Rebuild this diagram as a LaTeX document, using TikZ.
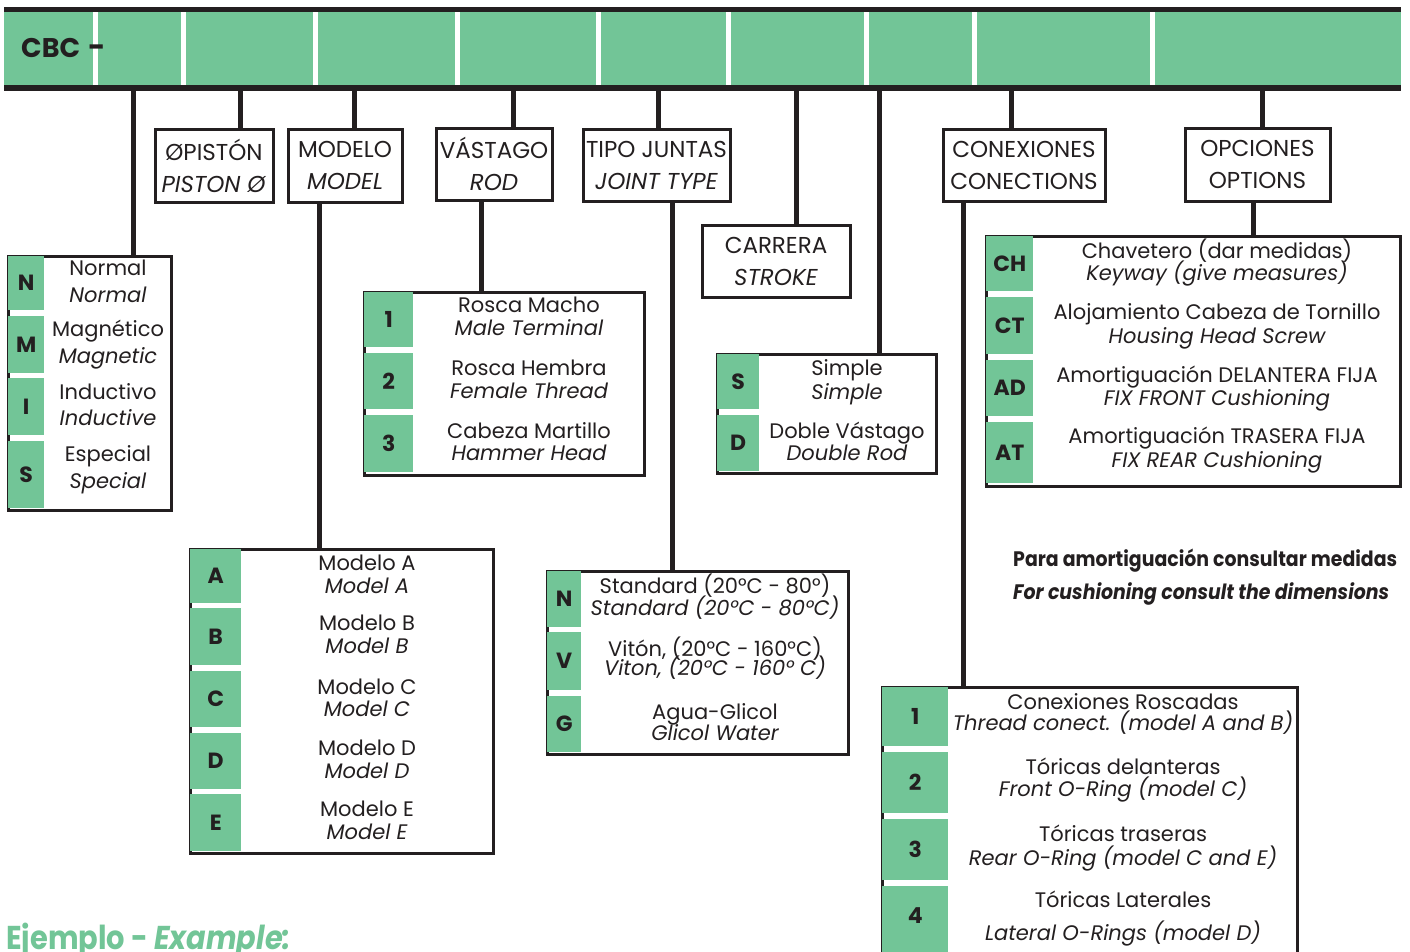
\documentclass[tikz,border=0pt]{standalone}
\usepackage{fontspec}
\setmainfont{Poppins}
\newfontfamily\condfont[FakeStretch=0.9]{Poppins}
\newfontfamily\ejfont[FakeStretch=0.875]{Poppins}
\definecolor{gr}{RGB}{114,197,151}
\definecolor{ink}{RGB}{35,31,32}
\tikzset{
  conn/.style={draw=ink, line width=5},
  hbox/.style={draw=ink, line width=3, fill=white, align=center, inner sep=0, anchor=north west,
    font=\fontsize{23}{32}\selectfont, text=ink},
  tbox/.style={draw=ink, line width=3, fill=white, inner sep=0, anchor=north west},
  gcell/.style={fill=gr, inner sep=0, anchor=north west, font=\fontsize{22}{22}\selectfont\bfseries, text=ink},
  es/.style={anchor=base, inner sep=0, font=\fontsize{21}{21}\selectfont, text=ink},
  en/.style={anchor=base, inner sep=0, font=\fontsize{21}{21}\selectfont\itshape, text=ink},
}
\begin{document}
\begin{tikzpicture}[x=1pt,y=-1pt]
\useasboundingbox[fill=white] (0,0) rectangle (1410,951);

% ---- top bar
\node[fill=gr, minimum width=1397, minimum height=73, inner sep=0, anchor=north west] (bar) at (4,12) {};
\draw[ink, line width=5] ([yshift=2.5]bar.north west) -- ([yshift=2.5]bar.north east);
\draw[ink, line width=6] ([yshift=-3]bar.south west) -- ([yshift=-3]bar.south east);
\foreach \x in {95.5,183,315,457,598,728,866,974,1152}
  \draw[white, line width=5] (\x,12) -- (\x,85);
\node[anchor=base west, inner sep=0, font=\fontsize{27}{27}\selectfont\bfseries, text=ink] (cbc) at (21,57.5) {CBC};
\node[anchor=base, inner sep=0, font=\fontsize{30}{30}\selectfont\bfseries, text=ink] (dash) at (97,57.5) {-};

% ---- header boxes
\node[hbox, minimum width=118, minimum height=73] (pist) at (153.5,127.5) {ØPISTÓN\\\textit{PISTON Ø}};
\node[hbox, minimum width=114, minimum height=73] (mod) at (286.5,127.5) {MODELO\\\textit{MODEL}};
\node[hbox, minimum width=116, minimum height=72] (vas) at (434.5,126.5) {VÁSTAGO\\\textit{ROD}};
\node[hbox, minimum width=147, minimum height=72] (tip) at (581.5,127.5) {TIPO JUNTAS\\\textit{JOINT TYPE}};
\node[hbox, minimum width=148, minimum height=72] (car) at (700.5,223.5) {CARRERA\\\textit{STROKE}};
\node[hbox, minimum width=162, minimum height=72] (con) at (941.5,127.5) {CONEXIONES\\CONECTIONS};
\node[hbox, minimum width=145, minimum height=73] (opc) at (1183.5,126.5) {OPCIONES\\OPTIONS};

% ---- tables (outer frames)
\node[tbox, minimum width=163, minimum height=254] (tN) at (6.5,254.5) {};
\node[tbox, minimum width=280, minimum height=183] (tR) at (362.5,290.5) {};
\node[tbox, minimum width=219, minimum height=119] (tS) at (715.5,352.5) {};
\node[tbox, minimum width=414, minimum height=250] (tO) at (984.5,234.5) {};
\node[tbox, minimum width=303, minimum height=304] (tA) at (188.5,547.5) {};
\node[tbox, minimum width=301, minimum height=183] (tJ) at (545.5,569.5) {};
\node[tbox, minimum width=415, minimum height=320] (tC) at (880.5,685.5) {};

% ---- table N / M / I / S
\foreach \n/\t/\b/\ya/\yb/\sa/\sb in {
  N/256/310/268/295/Normal/Normal,
  M/316/373/329/356/Magnético/Magnetic,
  I/378/435/392/418/Inductivo/Inductive,
  S/441/508/454/481/Especial/Special}{
  \node[gcell, minimum width=36, minimum height=\b-\t] (tN-\n) at (8,\t) {\n};
  \node[es] (tN-\n-es) at (108,\ya+7.5) {\sa};
  \node[en] (tN-\n-en) at (108,\yb+7.5) {\sb};
}

% ---- table rod
\foreach \n/\t/\b/\ya/\yb/\sa/\sb in {
  1/292/347/305/328/Rosca Macho/Male Terminal,
  2/353/409/368/391/Rosca Hembra/Female Thread,
  3/415/472/431/453/Cabeza Martillo/Hammer Head}{
  \node[gcell, minimum width=49, minimum height=\b-\t] (tR-\n) at (364,\t) {\n};
  \node[es] (tR-\n-es) at (529,\ya+7.5) {\sa};
  \node[en] (tR-\n-en) at (529,\yb+7.5) {\sb};
}

% ---- table simple / double
\foreach \n/\t/\b/\ya/\yb/\sa/\sb in {
  S/354/409/368/392/Simple/Simple,
  D/415/471/431/453/Doble Vástago/Double Rod}{
  \node[gcell, minimum width=42, minimum height=\b-\t] (tS-\n) at (717,\t) {\n};
  \node[es] (tS-\n-es) at (847,\ya+7.5) {\sa};
  \node[en] (tS-\n-en) at (847,\yb+7.5) {\sb};
}

% ---- table options
\foreach \n/\t/\b/\ya/\yb/\sa/\sb in {
  CH/236/291/251/273/Chavetero (dar medidas)/Keyway (give measures),
  CT/297/354/312/336/Alojamiento Cabeza de Tornillo/Housing Head Screw,
  AD/360/416/375/398/Amortiguación DELANTERA FIJA/FIX FRONT Cushioning,
  AT/422/483/436/460/Amortiguación TRASERA FIJA/FIX REAR Cushioning}{
  \node[gcell, minimum width=47, minimum height=\b-\t] (tO-\n) at (986,\t) {\n};
  \node[es] (tO-\n-es) at (1217,\ya+7.5) {\sa};
  \node[en] (tO-\n-en) at (1217,\yb+7.5) {\sb};
}

% ---- table model
\foreach \n/\t/\b/\ya/\yb in {
  A/549/603/563/586, B/608/665/623/646, C/671/727/687/709,
  D/733/789/748/771, E/794/851/809/832}{
  \node[gcell, minimum width=51, minimum height=\b-\t] (tA-\n) at (190,\t) {\n};
  \node[es] (tA-\n-es) at (367,\ya+7.5) {Modelo \n};
  \node[en] (tA-\n-en) at (367,\yb+7.5) {Model \n};
}

% ---- table joints
\foreach \n/\t/\b/\ya/\yb/\sa/\sb in {
  N/571/627/586/608/{Standard (20°C - 80°)}/{Standard (20°C - 80°C)},
  V/632/690/649/668/{Vitón, (20°C - 160°C)}/{Viton, (20°C - 160° C)},
  G/696/752/712/733/Agua-Glicol/Glicol Water}{
  \node[gcell, minimum width=34, minimum height=\b-\t] (tJ-\n) at (547,\t) {\n};
  \node[es] (tJ-\n-es) at (715,\ya+7.5) {\sa};
  \node[en] (tJ-\n-en) at (715,\yb+7.5) {\sb};
}

% ---- table connections
\foreach \n/\t/\b/\ya/\yb/\sa/\sb in {
  1/687/746/702/723/Conexiones Roscadas/{Thread conect. (model A and B)},
  2/752/813/767/789/Tóricas delanteras/{Front O-Ring (model C)},
  3/819/880/834/858/Tóricas traseras/{Rear O-Ring (model C and E)},
  4/886/945/900/933/Tóricas Laterales/{Lateral O-Rings (model D)}}{
  \node[gcell, minimum width=66, minimum height=\b-\t] (tC-\n) at (882,\t) {\n};
  \node[es] (tC-\n-es) at (1123,\ya+7.5) {\sa};
  \node[en] (tC-\n-en) at (1123,\yb+7.5) {\sb};
}
\fill[gr] (tC-4.south west) rectangle ([yshift=-20]tC-4.south east);

% ---- connectors from the bar
\coordinate (k1) at (133,88);
\coordinate (k2) at (240,88);
\coordinate (k3) at (354,88);
\coordinate (k4) at (513,88);
\coordinate (k5) at (658,88);
\coordinate (k6) at (796,88);
\coordinate (k7) at (879,88);
\coordinate (k8) at (1011,88);
\coordinate (k9) at (1262,88);
\draw[conn] (k1) -- (k1 |- tN.north);
\draw[conn] (k2) -- (k2 |- pist.north);
\draw[conn] (k3) -- (k3 |- mod.north);
\draw[conn] (k4) -- (k4 |- vas.north);
\draw[conn] (k5) -- (k5 |- tip.north);
\draw[conn] (k6) -- (k6 |- car.north);
\draw[conn] (k7) -- (k7 |- tS.north);
\draw[conn] (k8) -- (k8 |- con.north);
\draw[conn] (k9) -- (k9 |- opc.north);

% ---- connectors from header boxes to tables
\draw[conn] ([xshift=-25.5]mod.south) -- ([xshift=-25.5]mod.south |- tA.north);
\draw[conn] ([xshift=-12.5]vas.south) -- ([xshift=-12.5]vas.south |- tR.north);
\draw[conn] ([xshift=16]tip.south) -- ([xshift=16]tip.south |- tJ.north);
\draw[conn] ([xshift=-60.5]con.south) -- ([xshift=-60.5]con.south |- tC.north);
\draw[conn] ([xshift=-4]opc.south) -- ([xshift=-4]opc.south |- tO.north);

% ---- notes
\node[anchor=west, inner sep=0, font=\condfont\fontsize{21}{21}\selectfont\bfseries, text=ink] (note1) at (1013,561) {Para amortiguación consultar medidas};
\node[anchor=west, inner sep=0, font=\condfont\fontsize{21}{21}\selectfont\bfseries\itshape, text=ink] (note2) at (1013,594) {For cushioning consult the dimensions};
\node[anchor=base west, inner sep=0, text=gr, font=\ejfont\fontsize{33}{33}\selectfont\bfseries] (ej) at (6,949) {Ejemplo - \textit{Example:}};
\end{tikzpicture}
\end{document}
